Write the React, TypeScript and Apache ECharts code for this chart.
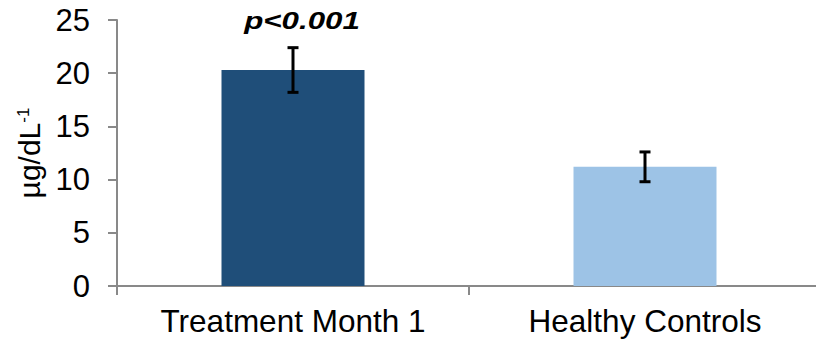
import React, { useEffect, useRef } from "react";
import * as echarts from "echarts";

// Group labels, bar means and error-bar limits (µg/dL⁻¹)
const categories = ["Treatment Month 1", "Healthy Controls"];
const means = [20.3, 11.2];
const errLow = [18.2, 9.8];
const errHigh = [22.4, 12.6];
const barColors = ["#1F4E79", "#9DC3E6"];
const yTicks = { min: 0, max: 25, interval: 5 };
const significance = "p<0.001";

const FONT = '"Liberation Sans", Arial, sans-serif';
const AXIS_GRAY = "#898989";

export default function App() {
  const ref = useRef<HTMLDivElement>(null);

  useEffect(() => {
    if (!ref.current) return;
    const chart = echarts.init(ref.current, undefined, { renderer: "svg" });

    const barData = means.map((v, i) => ({
      value: v,
      itemStyle: { color: barColors[i] },
    }));
    const errData = categories.map((_, i) => [i, errLow[i], errHigh[i]]);

    chart.setOption({
      animation: false,
      backgroundColor: "#ffffff",
      // the plot runs a little past the right edge of the visible frame
      grid: { left: 117, top: 20, width: 704, height: 266, containLabel: false },
      xAxis: {
        type: "category",
        data: categories,
        boundaryGap: true,
        axisLine: { show: true, lineStyle: { color: AXIS_GRAY, width: 2 } },
        axisTick: { show: true, length: 9, lineStyle: { color: AXIS_GRAY, width: 2 } },
        axisLabel: { color: "#000", fontSize: 31.5, fontFamily: FONT, margin: 19 },
        splitLine: { show: false },
      },
      yAxis: {
        type: "value",
        min: yTicks.min,
        max: yTicks.max,
        interval: yTicks.interval,
        name: "{main|µg/dL}{sup|-1}",
        nameLocation: "middle",
        nameGap: 72,
        nameRotate: 90,
        nameTextStyle: {
          color: "#000",
          fontFamily: FONT,
          rich: {
            main: { fontSize: 30, fontFamily: FONT, color: "#000" },
            sup: { fontSize: 17, fontFamily: FONT, color: "#000", verticalAlign: "top" },
          },
        },
        axisLine: { show: true, lineStyle: { color: AXIS_GRAY, width: 2 } },
        axisTick: { show: true, length: 9, lineStyle: { color: AXIS_GRAY, width: 2 } },
        axisLabel: { color: "#000", fontSize: 31, fontFamily: FONT, margin: 27 },
        splitLine: { show: false },
      },
      series: [
        {
          type: "bar",
          data: barData,
          barWidth: 143,
          silent: true,
        },
        {
          type: "custom",
          data: errData,
          z: 10,
          silent: true,
          renderItem: (params: any, api: any) => {
            const idx = api.value(0);
            const lo = api.coord([idx, api.value(1)]);
            const hi = api.coord([idx, api.value(2)]);
            const half = 5.5;
            const style = { stroke: "#000", lineWidth: 3 };
            return {
              type: "group",
              children: [
                { type: "line", shape: { x1: hi[0], y1: hi[1], x2: lo[0], y2: lo[1] }, style },
                { type: "line", shape: { x1: hi[0] - half, y1: hi[1], x2: hi[0] + half, y2: hi[1] }, style },
                { type: "line", shape: { x1: lo[0] - half, y1: lo[1], x2: lo[0] + half, y2: lo[1] }, style },
              ],
            };
          },
        },
      ],
      graphic: [
        {
          type: "text",
          x: 302,
          y: 21,
          scaleX: 1.36,
          style: {
            text: significance,
            font: `italic bold 23px ${FONT}`,
            fill: "#000",
            align: "center",
            verticalAlign: "middle",
          },
        },
      ],
    });

    return () => chart.dispose();
  }, []);

  return (
    <div
      style={{
        position: "fixed",
        left: 0,
        top: 0,
        width: 816,
        height: 343,
        overflow: "hidden",
        background: "#fff",
      }}
    >
      <div ref={ref} style={{ width: 840, height: 343 }} />
    </div>
  );
}
